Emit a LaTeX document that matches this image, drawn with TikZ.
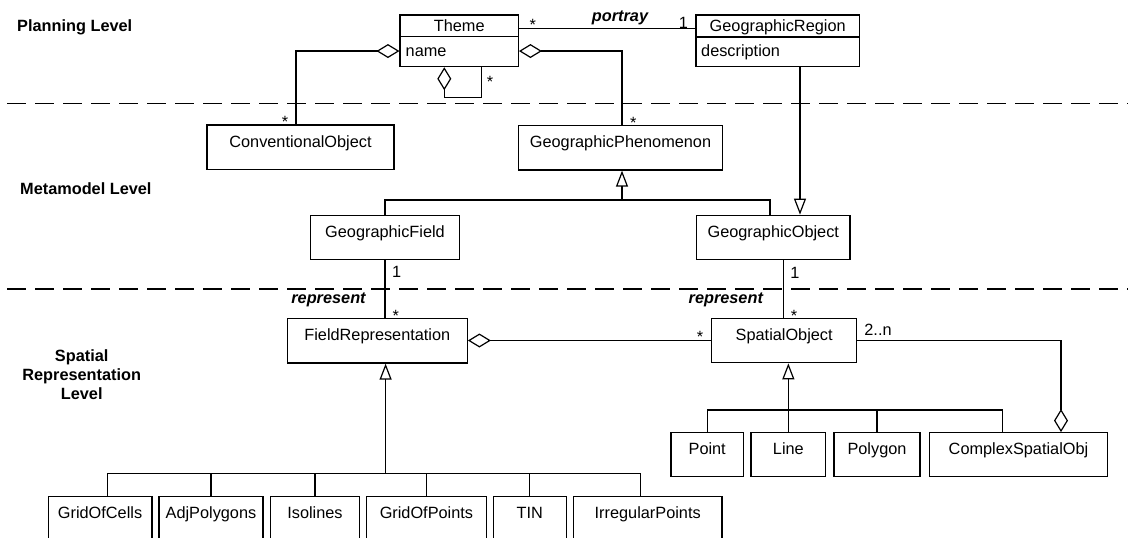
\documentclass[tikz,border=0pt]{standalone}
\usepackage{fontspec}
\setmainfont{Liberation Sans}
\usetikzlibrary{arrows.meta,calc}
\begin{document}
\begin{tikzpicture}[x=1pt,y=-1pt,
  every node/.style={font=\fontsize{16.3}{19}\selectfont},
  cls/.style={draw, line width=1.2pt, inner sep=0pt, text height=11.7pt, text depth=11.7pt, minimum height=44.5pt},
  lbl/.style={inner sep=0pt, text height=11.7pt, text depth=0pt},
  mult/.style={lbl, yshift=-3.55pt},
  role/.style={lbl, font=\fontsize{16.3}{19}\selectfont\bfseries\itshape},
  level/.style={inner sep=0pt, font=\fontsize{16.3}{19}\selectfont\bfseries},
  conn/.style={line width=1.2pt},
  agg/.style={conn, -{Diamond[open, length=23pt, width=14pt]}},
  gen/.style={conn, -{Triangle[open, length=16pt, width=12pt]}},
  layer/.style={line width=1.5pt, dash pattern=on 19pt off 9pt}
]
\clip (0,0) rectangle (1128,538);

% level separators
\draw[layer] (7,103.5) -- (1128,103.5);
\draw[layer] (7,289) -- (1128,289);

% level labels
\node[level, lbl, anchor=west] (lvl1) at (17,25.5) {Planning Level};
\node[level, lbl, anchor=west] (lvl2) at (20,188.3) {Metamodel Level};
\node[level, align=center, anchor=north] (lvl3) at (81.7,349.2) {Spatial\\Representation\\Level};

% planning level classes
\node[cls, minimum width=118.3pt, minimum height=51.7pt] (theme) at (459.2,40.8) {};
\node[lbl] (themeT) at (459.2,26) {Theme};
\node[lbl, anchor=west] (themeA) at (405.5,51) {name};
\draw[conn] ($(theme.north west)+(0,22.3)$) -- ($(theme.north east)+(0,22.3)$);

\node[cls, minimum width=163.3pt, minimum height=51.7pt] (region) at (777.7,40.8) {};
\node[lbl] (regionT) at (777.7,26) {GeographicRegion};
\node[lbl, anchor=west] (regionA) at (701,51) {description};
\draw[conn] ($(region.north west)+(0,22.7)$) -- ($(region.north east)+(0,22.7)$);

% metamodel level classes
\node[cls, minimum width=187pt] (conv) at (300.5,147.3) {ConventionalObject};
\node[cls, minimum width=203.6pt] (phen) at (620.5,147.8) {GeographicPhenomenon};
\node[cls, minimum width=148.6pt] (field) at (385,237.5) {GeographicField};
\node[cls, minimum width=153.3pt] (gobj) at (773.3,237.5) {GeographicObject};

% spatial representation level classes
\node[cls, minimum width=180pt] (frep) at (377.3,340.8) {FieldRepresentation};
\node[cls, minimum width=145pt] (sobj) at (784.2,340.5) {SpatialObject};

\node[cls, minimum width=72.3pt, minimum height=44pt] (point) at (707.2,454.7) {Point};
\node[cls, minimum width=74.7pt, minimum height=44pt] (line) at (788.35,454.7) {Line};
\node[cls, minimum width=86pt, minimum height=44pt] (polygon) at (877,454.7) {Polygon};
\node[cls, minimum width=178.4pt, minimum height=44pt] (complex) at (1018.5,454.7) {ComplexSpatialObj};

\node[cls, minimum width=103.9pt, minimum height=44pt] (gridcells) at (100.05,518.7) {GridOfCells};
\node[cls, minimum width=103.9pt, minimum height=44pt] (adjpoly) at (210.95,518.7) {AdjPolygons};
\node[cls, minimum width=89.2pt, minimum height=44pt] (isolines) at (315,518.7) {Isolines};
\node[cls, minimum width=119.4pt, minimum height=44pt] (gridpoints) at (426.4,518.7) {GridOfPoints};
\node[cls, minimum width=73.1pt, minimum height=44pt] (tin) at (529.75,518.7) {TIN};
\node[cls, minimum width=148.6pt, minimum height=44pt] (irregular) at (647.7,518.7) {IrregularPoints};

% Theme -- GeographicRegion association
\draw[conn] ($(theme.north east)+(0,14.3)$) -- ($(region.north west)+(0,14.3)$);
\node[mult] (m1) at (532.7,20.7) {*};
\node[role] (r1) at (620,16) {portray};
\node[lbl] (m2) at (683.3,22.7) {1};

% Theme aggregations
\draw[agg] ($(conv.north)+(-4.5,0)$) |- ($(theme.north west)+(0,36.7)$);
\node[mult] (m3) at (285,118.3) {*};
\draw[agg] ($(phen.north)+(1.5,0)$) |- ($(theme.north east)+(0,36.7)$);
\node[mult] (m4) at (633.3,119.3) {*};
\draw[agg] ($(theme.south)+(22.5,0)$) -- ++(0,30) -| ($(theme.south)+(-14.9,0)$);
\node[mult] (m5) at (490,78) {*};

% GeographicRegion generalises to GeographicObject
\draw[gen] ($(region.south)+(22.3,0)$) -- ($(gobj.north)+(26.7,0)$);

% GeographicField / GeographicObject -> GeographicPhenomenon
\coordinate (pbus) at (622,200);
\draw[conn] (field.north) |- (pbus);
\draw[conn] ($(gobj.north)+(-3.3,0)$) |- (pbus);
\draw[gen] (pbus) -- (phen.south -| pbus);

% represent associations
\draw[conn] (field.south) -- (frep.north -| field.south);
\node[lbl] (m6) at (396.7,271.7) {1};
\node[role] (r2) at (328.5,297.5) {represent};
\node[mult] (m7) at (395.7,311.7) {*};

\draw[conn] ($(gobj.south)+(10,0)$) -- (sobj.north -| {$(gobj.south)+(10,0)$});
\node[lbl] (m8) at (795,272.7) {1};
\node[role] (r3) at (725.8,297.5) {represent};
\node[mult] (m9) at (794,311.7) {*};

% FieldRepresentation aggregates SpatialObject
\draw[agg] (sobj.west) -- (frep.east |- sobj.west);
\node[mult] (m10) at (700,333.3) {*};

% ComplexSpatialObj aggregates SpatialObject
\draw[agg] (sobj.east) -| ($(complex.north)+(42.5,0)$);
\node[lbl] (m11) at (878,330) {2..n};

% SpatialObject subclasses
\coordinate (sbus) at (788.3,410);
\draw[gen] (line.north) -- (sobj.south -| line.north);
\draw[conn] (point.north) |- (sbus);
\draw[conn] (polygon.north) |- (sbus);
\draw[conn] ($(complex.north)+(-15.8,0)$) |- (sbus);

% FieldRepresentation subclasses
\coordinate (fbus) at (385.6,473.3);
\draw[gen] (fbus) -- (frep.south -| fbus);
\draw[conn] ($(gridcells.north)+(7.6,0)$) |- (fbus);
\draw[conn] (adjpoly.north) |- (fbus);
\draw[conn] (isolines.north) |- (fbus);
\draw[conn] (gridpoints.north) |- (fbus);
\draw[conn] (tin.north) |- (fbus);
\draw[conn] ($(irregular.north)+(-7.3,0)$) |- (fbus);
\end{tikzpicture}
\end{document}
